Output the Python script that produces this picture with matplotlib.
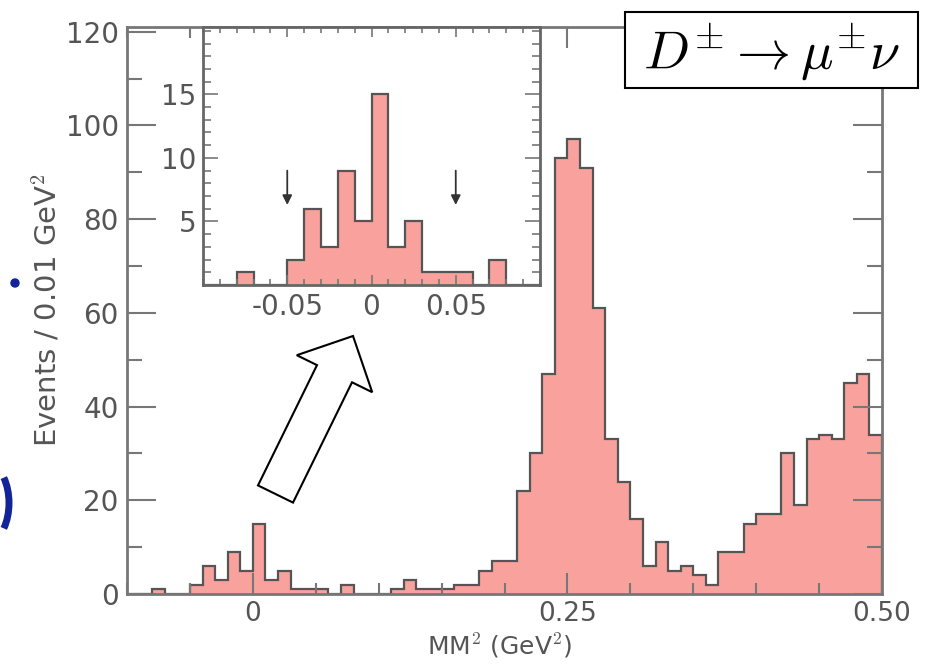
import numpy as np
import matplotlib
matplotlib.use("Agg")
import matplotlib.pyplot as plt
from matplotlib.patches import FancyArrow, Rectangle, Arc, Circle
from matplotlib.transforms import IdentityTransform
from matplotlib.ticker import MultipleLocator

plt.rcParams['font.family'] = ['DejaVu Sans']
plt.rcParams['axes.unicode_minus'] = False
plt.rcParams['mathtext.fontset'] = 'cm'

# ---------------- data ----------------
bin_start = -0.10
bin_width = 0.01
counts = [0, 0, 1, 0, 0, 2, 6, 3, 9, 5,
          15, 3, 5, 1, 1, 1, 0, 2, 0, 0,
          0, 1, 3, 1, 1, 1, 2, 2, 5, 7,
          7, 22, 30, 47, 93, 97, 91, 61, 33, 24,
          16, 6, 11, 5, 6, 4, 2, 9, 9, 15,
          17, 17, 30, 19, 33, 34, 33, 45, 47, 34]
main_xticks = [0.0, 0.25, 0.50]
main_xticklabels = ['0', '0.25', '0.50']
main_yticks = [0, 20, 40, 60, 80, 100, 120]
inset_xticks = [-0.05, 0.0, 0.05]
inset_xticklabels = ['-0.05', '0', '0.05']
inset_yticks = [5, 10, 15]
cut_positions = [-0.05, 0.05]
ylabel = 'Events / 0.01 GeV$^2$'
xlabel = 'MM$^2$ (GeV$^2$)'
legend_text = r'$D^{\pm} \rightarrow \mu^{\pm}\nu$'

FILL = '#F9A19C'
EDGE = '#555555'
SPINE = '#777777'
TXT = '#555555'

edges = bin_start + bin_width * np.arange(len(counts) + 1)

W, H = 943, 665
fig = plt.figure(figsize=(W / 100, H / 100), dpi=100)


def rect(x0, y0, x1, y1):
    return [x0 / W, 1 - y1 / H, (x1 - x0) / W, (y1 - y0) / H]


# ---------------- main axes ----------------
ax = fig.add_axes(rect(127, 27, 882, 594))
ax.stairs(counts, edges, fill=True, color=FILL, lw=0)
ax.stairs(counts, edges, color=EDGE, lw=1.6)
ax.set_xlim(-0.10, 0.50)
ax.set_ylim(0, 121)
ax.set_xticks(main_xticks, main_xticklabels)
ax.xaxis.set_minor_locator(MultipleLocator(0.05))
ax.set_yticks(main_yticks)
ax.yaxis.set_minor_locator(MultipleLocator(10))
ax.tick_params(axis='both', which='both', direction='in', top=True, right=True,
               colors=SPINE, labelcolor=TXT)
ax.tick_params(axis='x', which='major', length=15, width=1.5, pad=5, labelsize=19)
ax.tick_params(axis='x', which='minor', length=8, width=1.5)
ax.tick_params(axis='y', which='major', length=21, width=1.5, pad=6, labelsize=20)
ax.tick_params(axis='y', which='minor', length=11, width=1.5)
for s in ax.spines.values():
    s.set_color(SPINE)
    s.set_linewidth(2)
ax.set_ylabel(ylabel, fontsize=21, color=TXT)
ax.yaxis.set_label_coords(-0.086, 0.5)
ax.set_xlabel(xlabel, fontsize=18, color=TXT)
ax.xaxis.set_label_coords(0.494, -0.066)

# ---------------- inset ----------------
axin = fig.add_axes(rect(203, 27, 540, 285))
axin.stairs(counts, edges, fill=True, color=FILL, lw=0)
axin.stairs(counts, edges, color=EDGE, lw=1.6)
axin.set_xlim(-0.10, 0.10)
axin.set_ylim(0, 20.3)
axin.set_xticks(inset_xticks, inset_xticklabels)
axin.xaxis.set_minor_locator(MultipleLocator(0.01))
axin.set_yticks(inset_yticks)
axin.yaxis.set_minor_locator(MultipleLocator(1))
axin.tick_params(axis='both', which='both', direction='in', top=True, right=True,
                 colors=SPINE, labelcolor=TXT)
axin.tick_params(axis='x', which='major', length=7, width=1.2, pad=6, labelsize=20)
axin.tick_params(axis='x', which='minor', length=4, width=1.2)
axin.tick_params(axis='y', which='major', length=11, width=1.2, pad=5, labelsize=20)
axin.tick_params(axis='y', which='minor', length=6, width=1.2)
for s in axin.spines.values():
    s.set_color('#666666')
    s.set_linewidth(2)
for xc in cut_positions:
    axin.annotate('', xy=(xc, 6.3), xytext=(xc, 9.0),
                  arrowprops=dict(arrowstyle='-|>', color='#333333', lw=1.3,
                                  mutation_scale=14, shrinkA=0, shrinkB=0))

# ---------------- hollow pointer arrow ----------------
tail = (275.5, H - 494)
tip = (353.0, H - 336)
arrow = FancyArrow(tail[0], tail[1], tip[0] - tail[0], tip[1] - tail[1],
                   width=39, head_width=84, head_length=42,
                   length_includes_head=True, fc='white', ec='black', lw=1.5,
                   transform=IdentityTransform(), zorder=10)
fig.add_artist(arrow)

# ---------------- decay label box ----------------
box = Rectangle((625 / W, 1 - 88 / H), 293 / W, 76 / H, transform=fig.transFigure,
                fc='white', ec='black', lw=1.5, zorder=20)
fig.add_artist(box)
fig.text(771.5 / W, 1 - 52 / H, legend_text, fontsize=39, ha='center', va='center',
         color='black', zorder=21)

# ---------------- cropped slide remnants (left edge) ----------------
fig.add_artist(Circle((15, H - 283), 4, color='#13239a', transform=IdentityTransform()))
fig.add_artist(Arc((-14, H - 503), 46, 80, theta1=-55, theta2=55, color='#13239a', lw=5,
                   transform=IdentityTransform()))

fig.savefig('out.png', dpi=100)
